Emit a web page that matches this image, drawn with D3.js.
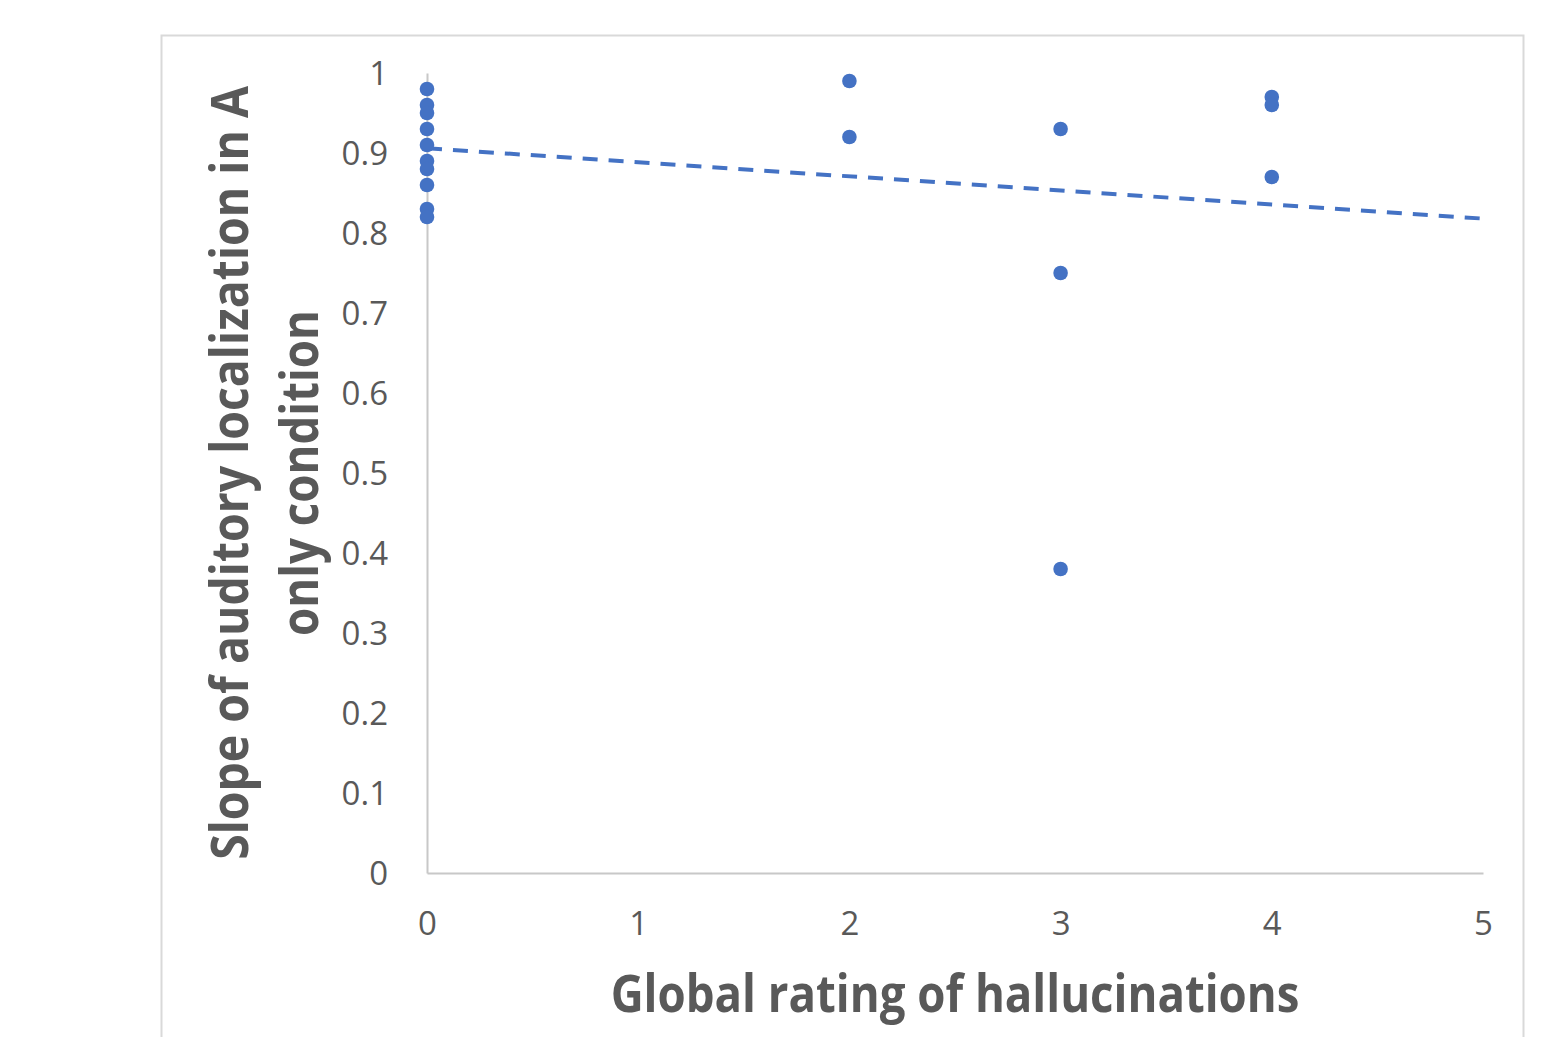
<!DOCTYPE html>
<html>
<head>
<meta charset="utf-8">
<script src="https://cdn.jsdelivr.net/npm/d3@7"></script>
<style>
  body { margin: 0; background: #fff; }
  svg text { font-family: "Open Sans", "Noto Sans", sans-serif; }
</style>
</head>
<body>
<svg id="drawing_region"></svg>
<script>
// ratings per participant and slope values
const ratings = [0,0,0,0,0,0,0,0,0,0, 2,2, 3,3,3, 4,4,4];
const slopes  = [0.98,0.96,0.95,0.93,0.91,0.89,0.88,0.86,0.83,0.82,
                 0.99,0.92, 0.93,0.75,0.38, 0.97,0.96,0.87];
// linear trendline end points
const trendX = [0, 5];
const trendY = [0.906, 0.818];
const xTicks = [0, 1, 2, 3, 4, 5];
const yTicks = [0, 0.1, 0.2, 0.3, 0.4, 0.5, 0.6, 0.7, 0.8, 0.9, 1];
const xTitle = 'Global rating of hallucinations';
const yTitle = ['Slope of auditory localization in A', 'only condition'];

const config = {
    width: 1565,
    height: 1037,
    margin: {top: 73, right: 82, bottom: 164, left: 427}
};
const blue = '#4472c4';
const grey = '#595959';

let svg = d3.select('#drawing_region')
    .attr('width', config.width)
    .attr('height', config.height);

// outer frame
svg.append('rect')
    .attr('x', 161.5).attr('y', 35.5)
    .attr('width', 1362).attr('height', 1100)
    .attr('fill', 'none')
    .attr('stroke', '#d9d9d9')
    .attr('stroke-width', 2);

let inner_width = config.width - config.margin.left - config.margin.right;
let inner_height = config.height - config.margin.top - config.margin.bottom;

let chart = svg.append('g')
    .attr('transform', `translate(${config.margin.left}, ${config.margin.top})`);

let xscale = d3.scaleLinear().domain([0, 5]).range([0, inner_width]);
let yscale = d3.scaleLinear().domain([0, 1]).range([inner_height, 0]);

// axes
let xaxis = d3.axisBottom(xscale).tickValues(xTicks).tickSize(0).tickPadding(39).tickFormat(d => d);
let yaxis = d3.axisLeft(yscale).tickValues(yTicks).tickSize(0).tickPadding(39).tickFormat(d => d);

let xg = chart.append('g')
    .attr('transform', `translate(0, ${inner_height})`)
    .call(xaxis);
let yg = chart.append('g').call(yaxis);

[xg, yg].forEach(g => {
    g.select('.domain').attr('stroke', '#c8c8c8').attr('stroke-width', 2);
    g.selectAll('text')
        .attr('fill', grey)
        .style('font-size', '33px');
});
yg.selectAll('text').attr('dy', '0.34em');

// trendline
let line = d3.line()
    .x(d => xscale(d[0]))
    .y(d => yscale(d[1]));

chart.append('path')
    .attr('d', line(d3.zip(trendX, trendY)))
    .attr('fill', 'none')
    .attr('stroke', blue)
    .attr('stroke-width', 4)
    .attr('stroke-dasharray', '15 11');

// points
chart.selectAll('circle')
    .data(d3.zip(ratings, slopes))
    .enter()
    .append('circle')
    .attr('cx', d => xscale(d[0]))
    .attr('cy', d => yscale(d[1]))
    .attr('r', 7.3)
    .style('fill', blue);

// axis titles: bold, squeezed horizontally to the reference width
function condensedTitle(parent, txt, cx, baseline, width) {
    let g = parent.append('g').attr('transform', `translate(${cx}, ${baseline})`);
    let t = g.append('text')
        .attr('text-anchor', 'middle')
        .attr('fill', grey)
        .style('font-size', '52px')
        .style('font-weight', 700)
        .text(txt);
    let natural = t.node().getComputedTextLength();
    t.attr('transform', `scale(${width / natural}, 1)`);
}

condensedTitle(svg, xTitle, 955, 1012, 689);

let ytitle = svg.append('g')
    .attr('transform', 'translate(0, 473) rotate(-90)');
condensedTitle(ytitle, yTitle[0], 0, 248, 774);
condensedTitle(ytitle, yTitle[1], 0, 318, 326);
</script>
</body>
</html>
